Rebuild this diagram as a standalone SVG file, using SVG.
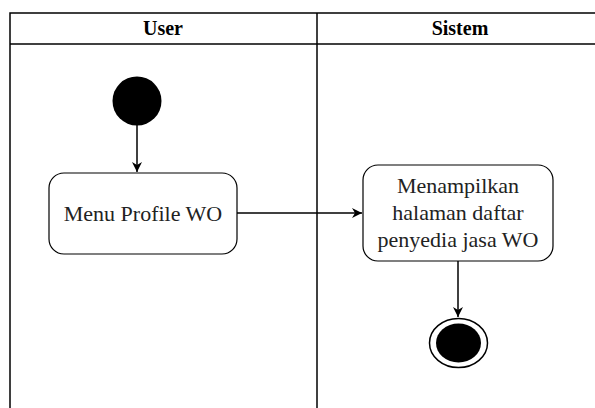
<svg xmlns="http://www.w3.org/2000/svg" width="595" height="408" viewBox="0 0 595 408">
<style>
.lane{fill:none;stroke:#000;stroke-width:1.5}
.hdr{font-family:'Liberation Serif',serif;font-size:20px;font-weight:bold;text-anchor:middle}
.act{fill:#fff;stroke:#000;stroke-width:1.2}
.t{font-family:'Liberation Serif',serif;font-size:22px;text-anchor:middle;fill:#222}
.c{fill:none;stroke:#000;stroke-width:1.5}
</style>
<defs>
<marker id="ah" viewBox="0 0 10 10" refX="10" refY="5" markerWidth="10" markerHeight="10" markerUnits="userSpaceOnUse" orient="auto">
<path d="M0,0 L10,5 L0,10 L3,5 z" fill="#000"/>
</marker>
</defs>
<g id="swimlanes">
<rect class="lane" x="10" y="13" width="620" height="420"/>
<line class="lane" x1="10" y1="44" x2="630" y2="44"/>
<line class="lane" x1="317" y1="13" x2="317" y2="433"/>
<text class="hdr" x="163" y="35">User</text>
<text class="hdr" x="460" y="35">Sistem</text>
</g>
<g id="connectors">
<line class="c" x1="137" y1="125" x2="137" y2="172" marker-end="url(#ah)"/>
<line class="c" x1="237" y1="213" x2="362" y2="213" marker-end="url(#ah)"/>
<line class="c" x1="458" y1="261" x2="458" y2="317" marker-end="url(#ah)"/>
</g>
<g id="start">
<circle cx="137" cy="101" r="24.5" fill="#000"/>
</g>
<g id="menu">
<rect class="act" x="49" y="173" width="188" height="81" rx="15"/>
<text class="t" x="143" y="221">Menu Profile WO</text>
</g>
<g id="tampil">
<rect class="act" x="363" y="165" width="190" height="96" rx="15"/>
<text class="t" x="458" y="193">Menampilkan</text>
<text class="t" x="458" y="220">halaman daftar</text>
<text class="t" x="458" y="247">penyedia jasa WO</text>
</g>
<g id="end">
<ellipse cx="458.5" cy="343" rx="29" ry="24.5" fill="#fff" stroke="#000" stroke-width="1.5"/>
<ellipse cx="458.5" cy="343" rx="22.5" ry="19.5" fill="#000"/>
</g>
</svg>
